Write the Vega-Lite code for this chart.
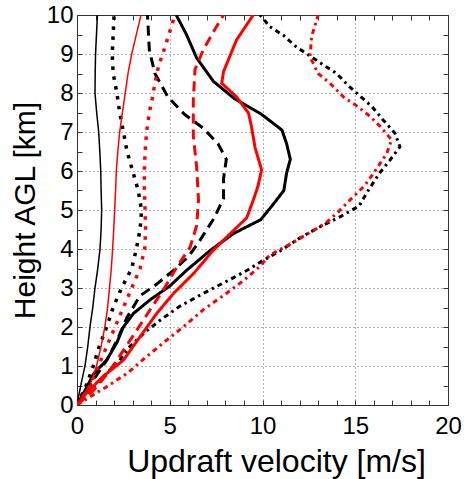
{
"$schema": "https://vega.github.io/schema/vega-lite/v6.json",
"width": 371, "height": 390,
"autosize": {"type": "none"},
"padding": {"left": 77, "top": 15, "right": 16, "bottom": 74},
"background": "white",
"config": {
  "font": "Liberation Sans",
  "view": {"stroke": "#333", "strokeWidth": 1},
  "axis": {"labelColor": "black", "titleColor": "black", "titleFontWeight": "normal", "tickColor": "#333", "tickWidth": 1, "domain": false, "gridColor": "#666", "gridDash": [1, 3], "gridWidth": 1}
},
"datasets": {
"lines": [
{"s":"K1","i":0,"x":0,"y":0},{"s":"K1","i":1,"x":0.2,"y":0.5},{"s":"K1","i":2,"x":0.43,"y":1},{"s":"K1","i":3,"x":0.58,"y":1.5},{"s":"K1","i":4,"x":0.7,"y":2},{"s":"K1","i":5,"x":0.85,"y":2.5},{"s":"K1","i":6,"x":0.97,"y":3},{"s":"K1","i":7,"x":1.12,"y":3.5},{"s":"K1","i":8,"x":1.24,"y":4},{"s":"K1","i":9,"x":1.3,"y":4.5},{"s":"K1","i":10,"x":1.33,"y":5},{"s":"K1","i":11,"x":1.3,"y":5.5},{"s":"K1","i":12,"x":1.28,"y":6},{"s":"K1","i":13,"x":1.23,"y":6.5},{"s":"K1","i":14,"x":1.17,"y":7},{"s":"K1","i":15,"x":1.06,"y":7.5},{"s":"K1","i":16,"x":0.97,"y":8},{"s":"K1","i":17,"x":0.98,"y":8.5},{"s":"K1","i":18,"x":1.0,"y":9},{"s":"K1","i":19,"x":1.05,"y":9.5},{"s":"K1","i":20,"x":1.1,"y":10},
{"s":"KD","i":0,"x":0,"y":0},{"s":"KD","i":1,"x":0.5,"y":0.5},{"s":"KD","i":2,"x":0.88,"y":1},{"s":"KD","i":3,"x":1.2,"y":1.5},{"s":"KD","i":4,"x":1.6,"y":2},{"s":"KD","i":5,"x":1.95,"y":2.5},{"s":"KD","i":6,"x":2.4,"y":3},{"s":"KD","i":7,"x":2.95,"y":3.5},{"s":"KD","i":8,"x":3.2,"y":4},{"s":"KD","i":9,"x":3.4,"y":4.5},{"s":"KD","i":10,"x":3.48,"y":5},{"s":"KD","i":11,"x":3.3,"y":5.5},{"s":"KD","i":12,"x":3.0,"y":6},{"s":"KD","i":13,"x":2.7,"y":6.5},{"s":"KD","i":14,"x":2.5,"y":7},{"s":"KD","i":15,"x":2.3,"y":7.5},{"s":"KD","i":16,"x":2.15,"y":8},{"s":"KD","i":17,"x":1.95,"y":8.5},{"s":"KD","i":18,"x":1.9,"y":9},{"s":"KD","i":19,"x":1.95,"y":9.5},{"s":"KD","i":20,"x":2.0,"y":10},
{"s":"KH","i":0,"x":0,"y":0},{"s":"KH","i":1,"x":0.5,"y":0.35},{"s":"KH","i":2,"x":0.9,"y":0.65},{"s":"KH","i":3,"x":1.6,"y":1.15},{"s":"KH","i":4,"x":2.15,"y":1.65},{"s":"KH","i":5,"x":2.7,"y":2.25},{"s":"KH","i":6,"x":3.4,"y":2.8},{"s":"KH","i":7,"x":4.3,"y":3.1},{"s":"KH","i":8,"x":5.2,"y":3.45},{"s":"KH","i":9,"x":6.0,"y":3.8},{"s":"KH","i":10,"x":6.6,"y":4.2},{"s":"KH","i":11,"x":7.4,"y":4.8},{"s":"KH","i":12,"x":7.9,"y":5.3},{"s":"KH","i":13,"x":7.9,"y":5.8},{"s":"KH","i":14,"x":8.05,"y":6.3},{"s":"KH","i":15,"x":7.6,"y":6.7},{"s":"KH","i":16,"x":6.8,"y":7.1},{"s":"KH","i":17,"x":5.8,"y":7.45},{"s":"KH","i":18,"x":4.9,"y":7.9},{"s":"KH","i":19,"x":4.2,"y":8.5},{"s":"KH","i":20,"x":3.9,"y":9.1},{"s":"KH","i":21,"x":3.8,"y":10},
{"s":"KS","i":0,"x":0,"y":0},{"s":"KS","i":1,"x":0.35,"y":0.3},{"s":"KS","i":2,"x":0.9,"y":0.8},{"s":"KS","i":3,"x":1.6,"y":1.15},{"s":"KS","i":4,"x":2.15,"y":1.6},{"s":"KS","i":5,"x":2.5,"y":2.0},{"s":"KS","i":6,"x":3.05,"y":2.35},{"s":"KS","i":7,"x":3.95,"y":2.7},{"s":"KS","i":8,"x":5.0,"y":3.05},{"s":"KS","i":9,"x":5.9,"y":3.45},{"s":"KS","i":10,"x":7.2,"y":3.97},{"s":"KS","i":11,"x":8.45,"y":4.4},{"s":"KS","i":12,"x":9.9,"y":4.75},{"s":"KS","i":13,"x":10.5,"y":5.1},{"s":"KS","i":14,"x":11.15,"y":5.5},{"s":"KS","i":15,"x":11.3,"y":5.95},{"s":"KS","i":16,"x":11.5,"y":6.3},{"s":"KS","i":17,"x":11.3,"y":6.7},{"s":"KS","i":18,"x":11.05,"y":7.05},{"s":"KS","i":19,"x":9.9,"y":7.47},{"s":"KS","i":20,"x":8.5,"y":7.85},{"s":"KS","i":21,"x":7.35,"y":8.3},{"s":"KS","i":22,"x":6.45,"y":8.9},{"s":"KS","i":23,"x":5.9,"y":9.5},{"s":"KS","i":24,"x":5.35,"y":10},
{"s":"KDD","i":0,"x":0,"y":0},{"s":"KDD","i":1,"x":0.7,"y":0.38},{"s":"KDD","i":2,"x":1.6,"y":0.81},{"s":"KDD","i":3,"x":2.3,"y":1.15},{"s":"KDD","i":4,"x":2.85,"y":1.5},{"s":"KDD","i":5,"x":3.6,"y":1.84},{"s":"KDD","i":6,"x":4.5,"y":2.18},{"s":"KDD","i":7,"x":5.5,"y":2.52},{"s":"KDD","i":8,"x":6.8,"y":2.86},{"s":"KDD","i":9,"x":8.1,"y":3.18},{"s":"KDD","i":10,"x":9.2,"y":3.46},{"s":"KDD","i":11,"x":10.0,"y":3.7},{"s":"KDD","i":12,"x":10.95,"y":3.95},{"s":"KDD","i":13,"x":12.0,"y":4.28},{"s":"KDD","i":14,"x":13.1,"y":4.57},{"s":"KDD","i":15,"x":14.2,"y":4.83},{"s":"KDD","i":16,"x":15.2,"y":5.1},{"s":"KDD","i":17,"x":15.7,"y":5.5},{"s":"KDD","i":18,"x":16.3,"y":5.94},{"s":"KDD","i":19,"x":16.87,"y":6.28},{"s":"KDD","i":20,"x":17.41,"y":6.62},{"s":"KDD","i":21,"x":17.14,"y":6.97},{"s":"KDD","i":22,"x":16.5,"y":7.31},{"s":"KDD","i":23,"x":15.9,"y":7.65},{"s":"KDD","i":24,"x":15.26,"y":7.92},{"s":"KDD","i":25,"x":14.6,"y":8.2},{"s":"KDD","i":26,"x":14.0,"y":8.5},{"s":"KDD","i":27,"x":13.28,"y":8.72},{"s":"KDD","i":28,"x":12.56,"y":8.95},{"s":"KDD","i":29,"x":11.8,"y":9.19},{"s":"KDD","i":30,"x":11.12,"y":9.48},{"s":"KDD","i":31,"x":10.4,"y":9.7},{"s":"KDD","i":32,"x":9.87,"y":10},
{"s":"R1","i":0,"x":0,"y":0},{"s":"R1","i":1,"x":0.4,"y":0.3},{"s":"R1","i":2,"x":0.7,"y":0.5},{"s":"R1","i":3,"x":1.05,"y":1},{"s":"R1","i":4,"x":1.3,"y":1.5},{"s":"R1","i":5,"x":1.5,"y":2},{"s":"R1","i":6,"x":1.65,"y":2.5},{"s":"R1","i":7,"x":1.75,"y":3},{"s":"R1","i":8,"x":1.85,"y":3.5},{"s":"R1","i":9,"x":1.92,"y":4},{"s":"R1","i":10,"x":1.98,"y":4.5},{"s":"R1","i":11,"x":2.03,"y":5},{"s":"R1","i":12,"x":2.08,"y":5.5},{"s":"R1","i":13,"x":2.12,"y":6},{"s":"R1","i":14,"x":2.2,"y":6.5},{"s":"R1","i":15,"x":2.3,"y":7},{"s":"R1","i":16,"x":2.45,"y":7.5},{"s":"R1","i":17,"x":2.6,"y":8},{"s":"R1","i":18,"x":2.75,"y":8.5},{"s":"R1","i":19,"x":2.95,"y":9},{"s":"R1","i":20,"x":3.2,"y":9.5},{"s":"R1","i":21,"x":3.45,"y":10},
{"s":"RD","i":0,"x":0,"y":0},{"s":"RD","i":1,"x":0.7,"y":0.5},{"s":"RD","i":2,"x":1.15,"y":1},{"s":"RD","i":3,"x":1.6,"y":1.5},{"s":"RD","i":4,"x":2.05,"y":2},{"s":"RD","i":5,"x":2.5,"y":2.5},{"s":"RD","i":6,"x":2.95,"y":3},{"s":"RD","i":7,"x":3.4,"y":3.5},{"s":"RD","i":8,"x":3.65,"y":4},{"s":"RD","i":9,"x":3.7,"y":4.5},{"s":"RD","i":10,"x":3.67,"y":5},{"s":"RD","i":11,"x":3.63,"y":5.5},{"s":"RD","i":12,"x":3.63,"y":6},{"s":"RD","i":13,"x":3.67,"y":6.5},{"s":"RD","i":14,"x":3.75,"y":7},{"s":"RD","i":15,"x":3.9,"y":7.5},{"s":"RD","i":16,"x":4.05,"y":7.85},{"s":"RD","i":17,"x":4.2,"y":8.25},{"s":"RD","i":18,"x":4.4,"y":8.7},{"s":"RD","i":19,"x":4.62,"y":9.0},{"s":"RD","i":20,"x":4.92,"y":9.45},{"s":"RD","i":21,"x":5.28,"y":10},
{"s":"RH","i":0,"x":0,"y":0},{"s":"RH","i":1,"x":0.9,"y":0.38},{"s":"RH","i":2,"x":1.8,"y":0.9},{"s":"RH","i":3,"x":2.5,"y":1.4},{"s":"RH","i":4,"x":3.2,"y":1.9},{"s":"RH","i":5,"x":3.95,"y":2.45},{"s":"RH","i":6,"x":4.65,"y":2.95},{"s":"RH","i":7,"x":5.4,"y":3.55},{"s":"RH","i":8,"x":6.1,"y":4.05},{"s":"RH","i":9,"x":6.45,"y":4.6},{"s":"RH","i":10,"x":6.55,"y":5.25},{"s":"RH","i":11,"x":6.45,"y":6.1},{"s":"RH","i":12,"x":6.27,"y":6.9},{"s":"RH","i":13,"x":6.27,"y":7.8},{"s":"RH","i":14,"x":6.36,"y":8.6},{"s":"RH","i":15,"x":6.8,"y":9.1},{"s":"RH","i":16,"x":7.45,"y":9.65},{"s":"RH","i":17,"x":7.9,"y":10},
{"s":"RS","i":0,"x":0,"y":0},{"s":"RS","i":1,"x":0.5,"y":0.3},{"s":"RS","i":2,"x":1.4,"y":0.73},{"s":"RS","i":3,"x":2.5,"y":1.15},{"s":"RS","i":4,"x":3.4,"y":1.75},{"s":"RS","i":5,"x":4.3,"y":2.35},{"s":"RS","i":6,"x":5.2,"y":2.86},{"s":"RS","i":7,"x":6.3,"y":3.38},{"s":"RS","i":8,"x":7.35,"y":3.97},{"s":"RS","i":9,"x":8.1,"y":4.32},{"s":"RS","i":10,"x":9.15,"y":4.8},{"s":"RS","i":11,"x":9.5,"y":5.25},{"s":"RS","i":12,"x":9.75,"y":5.6},{"s":"RS","i":13,"x":9.95,"y":6.03},{"s":"RS","i":14,"x":9.6,"y":6.6},{"s":"RS","i":15,"x":9.4,"y":7.15},{"s":"RS","i":16,"x":9.25,"y":7.48},{"s":"RS","i":17,"x":8.6,"y":7.9},{"s":"RS","i":18,"x":7.8,"y":8.25},{"s":"RS","i":19,"x":7.9,"y":8.55},{"s":"RS","i":20,"x":8.6,"y":9.36},{"s":"RS","i":21,"x":9.5,"y":10},
{"s":"RDD","i":0,"x":0,"y":0},{"s":"RDD","i":1,"x":0.7,"y":0.21},{"s":"RDD","i":2,"x":1.6,"y":0.47},{"s":"RDD","i":3,"x":2.7,"y":0.81},{"s":"RDD","i":4,"x":3.75,"y":1.24},{"s":"RDD","i":5,"x":4.85,"y":1.67},{"s":"RDD","i":6,"x":5.75,"y":2.01},{"s":"RDD","i":7,"x":6.8,"y":2.44},{"s":"RDD","i":8,"x":8.05,"y":2.86},{"s":"RDD","i":9,"x":9.0,"y":3.2},{"s":"RDD","i":10,"x":9.85,"y":3.55},{"s":"RDD","i":11,"x":10.4,"y":3.85},{"s":"RDD","i":12,"x":11.4,"y":4.1},{"s":"RDD","i":13,"x":12.55,"y":4.42},{"s":"RDD","i":14,"x":13.4,"y":4.66},{"s":"RDD","i":15,"x":14.1,"y":4.96},{"s":"RDD","i":16,"x":14.72,"y":5.26},{"s":"RDD","i":17,"x":15.5,"y":5.62},{"s":"RDD","i":18,"x":15.98,"y":5.94},{"s":"RDD","i":19,"x":16.35,"y":6.2},{"s":"RDD","i":20,"x":16.7,"y":6.45},{"s":"RDD","i":21,"x":16.96,"y":6.8},{"s":"RDD","i":22,"x":16.35,"y":7.14},{"s":"RDD","i":23,"x":15.8,"y":7.4},{"s":"RDD","i":24,"x":15.08,"y":7.67},{"s":"RDD","i":25,"x":14.36,"y":7.9},{"s":"RDD","i":26,"x":13.64,"y":8.25},{"s":"RDD","i":27,"x":13.0,"y":8.5},{"s":"RDD","i":28,"x":12.56,"y":8.93},{"s":"RDD","i":29,"x":12.65,"y":9.45},{"s":"RDD","i":30,"x":13.0,"y":10}
]
},
"data": {"name": "lines"},
"layer": [
  {
    "mark": {"type": "line", "strokeCap": "butt", "clip": true},
    "encoding": {
      "x": {"field": "x", "type": "quantitative", "scale": {"domain": [0, 20], "nice": false},
        "axis": {"title": "Updraft velocity [m/s]", "titleFontSize": 32, "titlePadding": 8, "titleX": 199, "labelFontSize": 24, "values": [0,1,2,3,4,5,6,7,8,9,10,11,12,13,14,15,16,17,18,19,20],
          "labelExpr": "datum.value % 5 === 0 ? format(datum.value, 'd') : ''", "tickSize": -5, "labelPadding": 14, "labelFlush": false,
          "grid": true, "gridOpacity": {"condition": {"test": "datum.value % 5 === 0 && datum.value > 0 && datum.value < 20", "value": 1}, "value": 0}}},
      "y": {"field": "y", "type": "quantitative", "scale": {"domain": [0, 10], "nice": false},
        "axis": {"title": "Height AGL [km]", "titleFontSize": 30, "titlePadding": 6, "labelFontSize": 24, "values": [0,0.5,1,1.5,2,2.5,3,3.5,4,4.5,5,5.5,6,6.5,7,7.5,8,8.5,9,9.5,10],
          "labelExpr": "datum.value % 1 === 0 ? format(datum.value, 'd') : ''", "tickSize": -5, "labelPadding": 9, "labelFlush": false,
          "grid": true, "gridOpacity": {"condition": {"test": "datum.value % 1 === 0 && datum.value > 0 && datum.value < 10", "value": 1}, "value": 0}}},
      "order": {"field": "i", "type": "quantitative"},
      "color": {"field": "s", "type": "nominal", "legend": null,
        "scale": {"domain": ["K1","KD","KH","KS","KDD","R1","RD","RH","RS","RDD"], "range": ["#000000","#000000","#000000","#000000","#000000","#ff0000","#ff0000","#ff0000","#ff0000","#ff0000"]}},
      "strokeDash": {"field": "s", "type": "nominal", "legend": null,
        "scale": {"domain": ["K1","KD","KH","KS","KDD","R1","RD","RH","RS","RDD"], "range": [[1,0],[3.5,6.5],[10,6],[1,0],[5,4,2.5,4],[1,0],[3.5,6.5],[10,6],[1,0],[5,4,2.5,4]]}},
      "strokeWidth": {"field": "s", "type": "ordinal", "legend": null,
        "scale": {"type": "ordinal", "domain": ["K1","KD","KH","KS","KDD","R1","RD","RH","RS","RDD"], "range": [1.5,3.5,3,3,3,1.5,3.5,3,3,3]}}
    }
  },
  {
    "mark": {"type": "point", "opacity": 0},
    "encoding": {
      "x": {"field": "x", "type": "quantitative", "axis": {"orient": "top", "title": null, "labels": false, "grid": false, "tickSize": -5, "values": [0,1,2,3,4,5,6,7,8,9,10,11,12,13,14,15,16,17,18,19,20]}},
      "y": {"field": "y", "type": "quantitative", "axis": {"orient": "right", "title": null, "labels": false, "grid": false, "tickSize": -5, "values": [0,0.5,1,1.5,2,2.5,3,3.5,4,4.5,5,5.5,6,6.5,7,7.5,8,8.5,9,9.5,10]}}
    }
  }
],
"resolve": {"axis": {"x": "independent", "y": "independent"}}
}
